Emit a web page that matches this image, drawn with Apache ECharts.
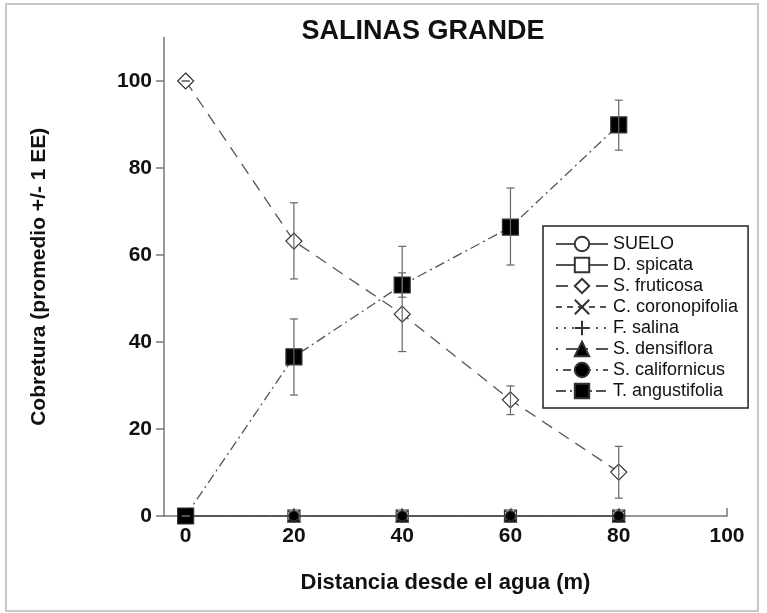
<!DOCTYPE html>
<html>
<head>
<meta charset="utf-8">
<script src="https://cdn.jsdelivr.net/npm/echarts@6/dist/echarts.min.js"></script>
<style>html,body{margin:0;padding:0;background:#fff}#c{width:767px;height:613px}</style>
</head>
<body>
<div id="c"></div>
<script>
const distances = [0, 20, 40, 60, 80];
const xTicks = [0, 20, 40, 60, 80, 100];
const yTicks = [0, 20, 40, 60, 80, 100];
const seriesNames = ['SUELO', 'D. spicata', 'S. fruticosa', 'C. coronopifolia', 'F. salina', 'S. densiflora', 'S. californicus', 'T. angustifolia'];
const suelo = [0, 0, 0, 0, 0];
const dSpicata = [0, 0, 0, 0, 0];
const sFruticosa = [100, 63.2, 46.4, 26.7, 10.1];
const sFruticosaLow = [100, 54.5, 37.8, 23.3, 4.1];
const sFruticosaHigh = [100, 72.0, 62.0, 29.9, 16.0];
const cCoronopifolia = [0, 0, 0, 0, 0];
const fSalina = [0, 0, 0, 0, 0];
const sDensiflora = [0, 0, 0, 0, 0];
const sCalifornicus = [0, 0, 0, 0, 0];
const tAngustifolia = [0, 36.6, 53.1, 66.4, 89.9];
const tAngustifoliaLow = [0, 27.8, 50.3, 57.7, 84.1];
const tAngustifoliaHigh = [0, 45.3, 55.9, 75.4, 95.6];

const FONT = '"Liberation Sans", Arial, Helvetica, sans-serif';
const LINE = '#555';
const pts = v => distances.map((d, i) => [d, v[i]]);
const X_PATH = 'path://M0,0L10,10M10,0L0,10';
const PLUS_PATH = 'path://M5,0L5,10M0,5L10,5';

function lineSeries(name, values, symbol, size, fill, dash, z) {
  return {
    type: 'line', name: name, data: pts(values), symbol: symbol, symbolSize: size,
    z: z, showSymbol: true,
    lineStyle: { color: LINE, width: 1.3, type: dash },
    itemStyle: { color: fill, borderColor: '#333', borderWidth: 1.2 },
    emphasis: { disabled: true }, animation: false
  };
}

function errSeries(low, high) {
  return {
    type: 'custom', z: 20, silent: true, animation: false,
    data: distances.map((d, i) => [d, low[i], high[i]]),
    renderItem: function (params, api) {
      const a = api.coord([api.value(0), api.value(1)]);
      const b = api.coord([api.value(0), api.value(2)]);
      const w = 4;
      const st = { stroke: '#666', lineWidth: 1.2 };
      return { type: 'group', children: [
        { type: 'line', shape: { x1: a[0], y1: a[1], x2: b[0], y2: b[1] }, style: st },
        { type: 'line', shape: { x1: a[0] - w, y1: a[1], x2: a[0] + w, y2: a[1] }, style: st },
        { type: 'line', shape: { x1: b[0] - w, y1: b[1], x2: b[0] + w, y2: b[1] }, style: st }
      ]};
    }
  };
}

const chart = echarts.init(document.getElementById('c'));
chart.setOption({
  animation: false,
  title: {
    text: 'SALINAS GRANDE', left: 418, top: 13, textAlign: 'center',
    textStyle: { fontFamily: FONT, fontWeight: 'bold', fontSize: 27, color: '#111' }
  },
  graphic: [{
    type: 'rect', silent: true,
    shape: { x: 6, y: 4, width: 752, height: 607 },
    style: { fill: 'none', stroke: '#c8c8c8', lineWidth: 2 }
  }],
  grid: { left: 164, right: 40, top: 37.5, bottom: 97, containLabel: false },
  xAxis: {
    type: 'value', min: -4, max: 100,
    name: 'Distancia desde el agua (m)', nameLocation: 'middle', nameGap: 56,
    nameTextStyle: { fontFamily: FONT, fontWeight: 'bold', fontSize: 22, color: '#111' },
    axisLine: { show: true, onZero: false, lineStyle: { color: '#777', width: 1.5 } },
    axisTick: { show: true, inside: true, length: 8, customValues: xTicks, lineStyle: { color: '#777', width: 1.5 } },
    axisLabel: { customValues: xTicks, margin: 10, fontFamily: FONT, fontWeight: 'bold', fontSize: 21, color: '#111' },
    splitLine: { show: false }
  },
  yAxis: {
    type: 'value', min: 0, max: 110,
    name: 'Cobretura (promedio +/- 1 EE)', nameLocation: 'middle', nameGap: 114,
    nameTextStyle: { fontFamily: FONT, fontWeight: 'bold', fontSize: 21, color: '#111' },
    axisLine: { show: true, onZero: false, lineStyle: { color: '#777', width: 1.5 } },
    axisTick: { show: true, inside: false, length: 8, customValues: yTicks, lineStyle: { color: '#777', width: 1.5 } },
    axisLabel: { customValues: yTicks, margin: 12, fontFamily: FONT, fontWeight: 'bold', fontSize: 21, color: '#111' },
    splitLine: { show: false }
  },
  legend: {
    data: seriesNames, orient: 'vertical', left: 543, top: 226,
    padding: [9, 10, 8, 12], itemGap: 3, itemWidth: 52, itemHeight: 18,
    borderColor: '#222', borderWidth: 1.5, backgroundColor: '#fff',
    textStyle: { fontFamily: FONT, fontSize: 18, color: '#111', lineHeight: 18 },
    selectedMode: false
  },
  series: [
    lineSeries('SUELO', suelo, 'circle', 12, '#fff', 'solid', 2),
    lineSeries('D. spicata', dSpicata, 'rect', 12, '#fff', 'solid', 3),
    lineSeries('S. fruticosa', sFruticosa, 'diamond', 16, '#fff', [12, 8], 4),
    lineSeries('C. coronopifolia', cCoronopifolia, X_PATH, 12, 'rgba(0,0,0,0)', [6, 5], 5),
    lineSeries('F. salina', fSalina, PLUS_PATH, 12, 'rgba(0,0,0,0)', [2, 6], 6),
    lineSeries('S. densiflora', sDensiflora, 'triangle', 12, '#000', [2, 8, 14, 6], 7),
    lineSeries('S. californicus', sCalifornicus, 'circle', 10, '#000', [2, 5, 8, 5], 8),
    lineSeries('T. angustifolia', tAngustifolia, 'rect', 16, '#000', [10, 4, 2, 4], 10),
    errSeries(sFruticosaLow, sFruticosaHigh),
    errSeries(tAngustifoliaLow, tAngustifoliaHigh)
  ]
});
</script>
</body>
</html>
